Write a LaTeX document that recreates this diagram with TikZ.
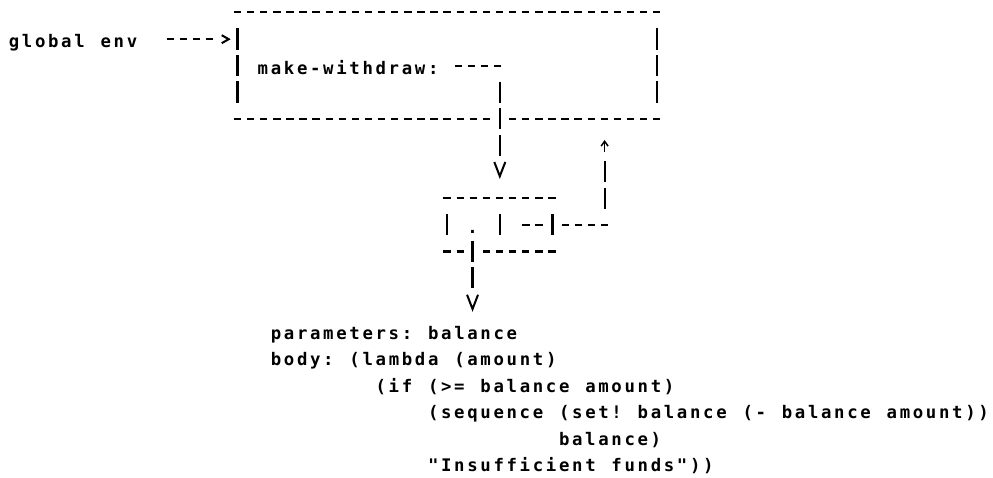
\documentclass[tikz,border=0pt]{standalone}
\usepackage{fontspec}
\newfontfamily\asciifont[LetterSpace=15.4]{DejaVu Sans Mono}
\newcommand\asciisetup{\asciifont\bfseries\fontsize{13}{15}\selectfont\frenchspacing
    \setbox0\hbox{x}\setbox2\hbox{xx}\spaceskip=\dimexpr2\wd2-3\wd0\relax}
\usetikzlibrary{arrows.meta}

\begin{document}
\begin{tikzpicture}[
        x=9.825pt, y=-19.875pt,
        txt/.style={anchor=west, inner sep=0pt, text height=13pt, text depth=0pt, font=\asciisetup},
        cell/.style={inner sep=0pt},
        hrun/.style={line width=1.6pt, dash pattern=on 5.5pt off 4.325pt},
        vbar/.style={line width=1.6pt, dash pattern=on 16pt off 3.875pt,
            preaction={draw=white, solid, line width=7pt}},
        head/.style 2 args={draw=white, line width=0.5pt,
            -{Straight Barb[color=black, length=#1, width=#2, line width=1.5pt]}},
        uptip/.style={line width=1.1pt, -{Straight Barb[length=3.6pt, width=5.2pt, line width=1.1pt]}}
    ]
        \useasboundingbox (-1.153,-0.479) rectangle (74.649,17.558);

        \node[txt] (genv) at (-0.5,1) {global env};
        \node[cell, minimum width=314.4pt, minimum height=79.5pt] (frame) at (33,2) {};
        \node[txt] (mw) at (18.5,2) {make-withdraw:};
        \node[cell, minimum width=78.6pt, minimum height=39.75pt] (pair) at (37,8) {};
        \node[txt] (car) at (34.5,8) {.};
        \coordinate (back) at (45,4);

        \node[txt] (params) at (19.5,12) {parameters: balance};
        \node[txt] (body) at (19.5,13) {body: (lambda (amount)};
        \node[txt] (iftest) at (27.5,14) {(if (>= balance amount)};
        \node[txt] (seq) at (31.5,15) {(sequence (set! balance (- balance amount))};
        \node[txt] (bal) at (41.5,16) {balance)};
        \node[txt] (msg) at (31.5,17) {"Insufficient funds"))};

        \draw[hrun] ([xshift=-2.75pt]frame.north west) -- ([xshift=2.75pt]frame.north east);
        \draw[hrun] ([xshift=-2.75pt]frame.south west) -- ([xshift=2.75pt]frame.south east);
        \draw[hrun] ([xshift=-2.75pt]pair.north west) -- ([xshift=2.75pt]pair.north east);
        \draw[hrun] ([xshift=-2.75pt]pair.south west) -- ([xshift=2.75pt]pair.south east);

        \draw[hrun, shorten <=21.8pt, shorten >=17.4pt] (genv.east) -- (genv.east -| frame.west);
        \draw[head={5.25pt}{6pt}] ([xshift=-10.35pt]genv.east -| frame.west) -- ([xshift=-5.1pt]genv.east -| frame.west);
        \draw[hrun, shorten <=12pt, shorten >=-2.75pt] (mw.east) -- (mw.east -| pair.north);
        \draw[hrun, shorten <=16.9pt, shorten >=-2.75pt] (pair.center) -- (pair.center -| back);

        \draw[vbar] ([yshift=-11.875pt]frame.north west) -- ([yshift=11.875pt]frame.south west);
        \draw[vbar] ([yshift=-11.875pt]frame.north east) -- ([yshift=11.875pt]frame.south east);
        \foreach \a in {west,center,east}
            \draw[vbar] ([yshift=8pt]pair.\a) -- ([yshift=-8pt]pair.\a);

        \draw[vbar, shorten <=11.875pt, shorten >=31.75pt] (mw.east -| pair.north) -- (pair.north);
        \draw[head={10.7pt}{8.25pt}] ([yshift=24.875pt]pair.north) -- ([yshift=14.175pt]pair.north);
        \draw[vbar, shorten <=11.875pt, shorten >=31.75pt] (car.center) -- (car.center |- params.center);
        \draw[head={10.7pt}{8.25pt}] ([yshift=24.875pt]car.center |- params.center) -- ([yshift=14.175pt]car.center |- params.center);
        \draw[vbar, shorten <=11.875pt, shorten >=31.75pt] (pair.center -| back) -- (back);
        \draw[uptip] ([yshift=-24.8pt]back) -- ([yshift=-16pt]back);
    \end{tikzpicture}
\end{document}
